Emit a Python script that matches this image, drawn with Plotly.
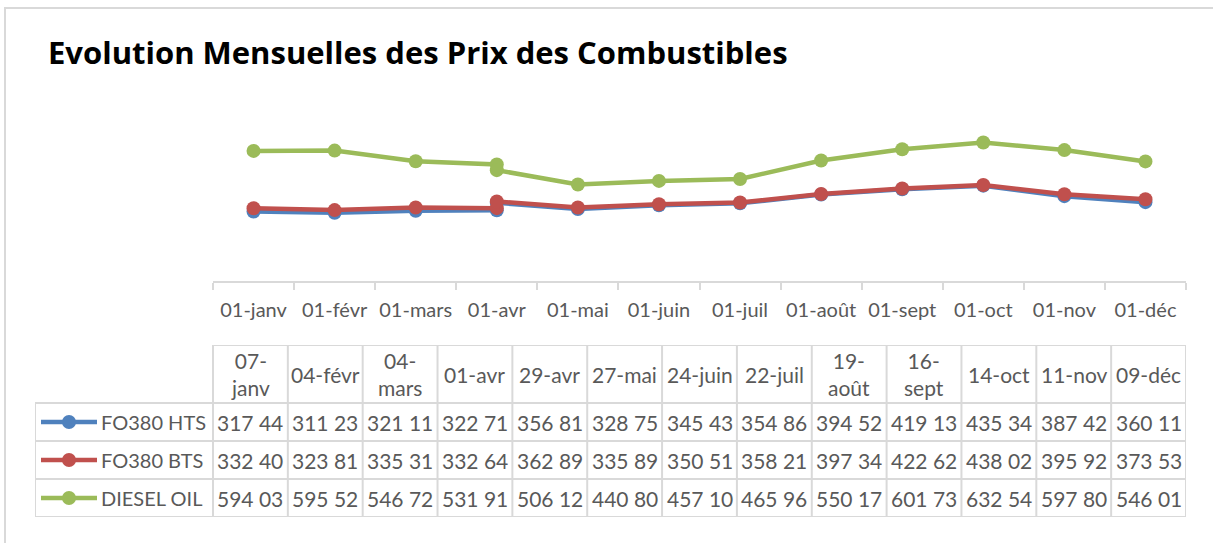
import plotly.graph_objects as go

# ---------------- data ----------------
months = ["01-janv", "01-févr", "01-mars", "01-avr", "01-mai", "01-juin",
          "01-juil", "01-août", "01-sept", "01-oct", "01-nov", "01-déc"]
dates = ["07-<br>janv", "04-févr", "04-<br>mars", "01-avr", "29-avr", "27-mai",
         "24-juin", "22-juil", "19-<br>août", "16-<br>sept", "14-oct", "11-nov", "09-déc"]
point_month = ["01-janv", "01-févr", "01-mars", "01-avr", "01-avr", "01-mai",
               "01-juin", "01-juil", "01-août", "01-sept", "01-oct", "01-nov", "01-déc"]
fo380_hts = [317.44, 311.23, 321.11, 322.71, 356.81, 328.75, 345.43,
             354.86, 394.52, 419.13, 435.34, 387.42, 360.11]
fo380_bts = [332.40, 323.81, 335.31, 332.64, 362.89, 335.89, 350.51,
             358.21, 397.34, 422.62, 438.02, 395.92, 373.53]
diesel_oil = [594.03, 595.52, 546.72, 531.91, 506.12, 440.80, 457.10,
              465.96, 550.17, 601.73, 632.54, 597.80, 546.01]
series_names = ["FO380 HTS", "FO380 BTS", "DIESEL OIL"]
series_values = [fo380_hts, fo380_bts, diesel_oil]
series_colors = ["#4F81BD", "#C0504D", "#9BBB59"]
title = "Evolution Mensuelles des Prix des Combustibles"

# ---------------- layout helpers ----------------
W, H = 1213, 543
FONT = "Lato, Carlito, Roboto, sans-serif"
TFONT = "'Open Sans', Lato, sans-serif"
TXT = "#595959"
GRID = "#d9d9d9"


def fx(p):
    return p / W


def fy(p):
    return 1 - p / H


fig = go.Figure()

# main line chart
for name, vals, col in zip(series_names, series_values, series_colors):
    fig.add_trace(go.Scatter(
        x=point_month, y=vals, mode="lines+markers", name=name,
        line=dict(color=col, width=4.5), marker=dict(size=14, color=col),
        xaxis="x", yaxis="y", showlegend=False, cliponaxis=False,
        hovertemplate="%{y}<extra>" + name + "</extra>"))

# ---------------- data table ----------------
n_cols = len(dates)
first_w = 178 / 74.85          # first column width in data-column units
head_h = 58 / 38               # header height in row units
n_rows = len(series_names)


def fmt(v):
    return f"{v:.2f}".replace(".", " ")


annotations = []
shapes = []
# header
for j, d in enumerate(dates):
    annotations.append(dict(x=j + 0.5, y=n_rows + head_h / 2, xref="x2", yref="y2",
                            text=d, showarrow=False, xanchor="center", yanchor="middle",
                            font=dict(family=FONT, size=21, color=TXT)))
# body
for i, (name, vals, col) in enumerate(zip(series_names, series_values, series_colors)):
    yc = n_rows - i - 0.5
    annotations.append(dict(x=-first_w + 64 / 74.85, y=yc, xref="x2", yref="y2",
                            text=name, showarrow=False, xanchor="left", yanchor="middle",
                            font=dict(family=FONT, size=20, color=TXT)))
    for j, v in enumerate(vals):
        annotations.append(dict(x=j + 0.5, y=yc, xref="x2", yref="y2",
                                text=fmt(v), showarrow=False, xanchor="center",
                                yanchor="middle",
                                font=dict(family=FONT, size=21, color=TXT)))
    # legend key: line segment + centre marker
    fig.add_trace(go.Scatter(
        x=[-first_w + 6 / 74.85, -first_w + 62 / 74.85], y=[yc, yc], mode="lines",
        xaxis="x2", yaxis="y2", line=dict(color=col, width=4.5),
        showlegend=False, hoverinfo="skip", cliponaxis=False))
    fig.add_trace(go.Scatter(
        x=[-first_w + 34 / 74.85], y=[yc], mode="markers",
        xaxis="x2", yaxis="y2", marker=dict(size=14, color=col),
        showlegend=False, hoverinfo="skip", cliponaxis=False))

# grid lines
gl = dict(color=GRID, width=2)
for r in range(n_rows + 1):
    shapes.append(dict(type="line", xref="x2", yref="y2", x0=-first_w, x1=n_cols,
                       y0=r, y1=r, line=gl, layer="below"))
shapes.append(dict(type="line", xref="x2", yref="y2", x0=0, x1=n_cols,
                   y0=n_rows + head_h, y1=n_rows + head_h, line=gl, layer="below"))
shapes.append(dict(type="line", xref="x2", yref="y2", x0=-first_w, x1=-first_w,
                   y0=0, y1=n_rows, line=gl, layer="below"))
for j in range(n_cols + 1):
    shapes.append(dict(type="line", xref="x2", yref="y2", x0=j, x1=j,
                       y0=0, y1=n_rows + head_h, line=gl, layer="below"))

# chart frame
shapes.append(dict(type="rect", xref="paper", yref="paper", x0=fx(5), x1=1.05,
                   y0=-0.05, y1=fy(8), line=dict(color=GRID, width=2), layer="below"))

# title
annotations.append(dict(x=fx(46), y=fy(52), xref="paper", yref="paper", text="<b>" + title + "</b>",
                        showarrow=False, xanchor="left", yanchor="middle",
                        font=dict(family=TFONT, size=31, color="#000000")))

fig.update_layout(
    width=W, height=H,
    margin=dict(l=0, r=0, t=0, b=0),
    paper_bgcolor="white", plot_bgcolor="white",
    showlegend=False,
    xaxis=dict(domain=[fx(213), fx(1186)], type="category",
               categoryorder="array", categoryarray=months, range=[-0.5, len(months) - 0.5],
               tickson="boundaries", ticks="outside", ticklen=7, tickwidth=2, tickcolor=GRID,
               showline=True, linecolor=GRID, linewidth=2, showgrid=False, zeroline=False,
               tickangle=0,
               tickfont=dict(family=FONT, size=20, color=TXT), ticklabelstandoff=10,
               fixedrange=True),
    yaxis=dict(domain=[fy(281), fy(127.7)], range=[0, 700], visible=False, fixedrange=True),
    xaxis2=dict(domain=[fx(35), fx(1186)], range=[-first_w, n_cols], visible=False,
                anchor="y2", fixedrange=True),
    yaxis2=dict(domain=[fy(517), fy(345)], range=[0, n_rows + head_h], visible=False,
                anchor="x2", fixedrange=True),
    annotations=annotations,
    shapes=shapes,
)

fig.write_html("out.html", config={"displayModeBar": False},
               post_script="document.body.style.margin='0';document.body.style.overflow='hidden';")
